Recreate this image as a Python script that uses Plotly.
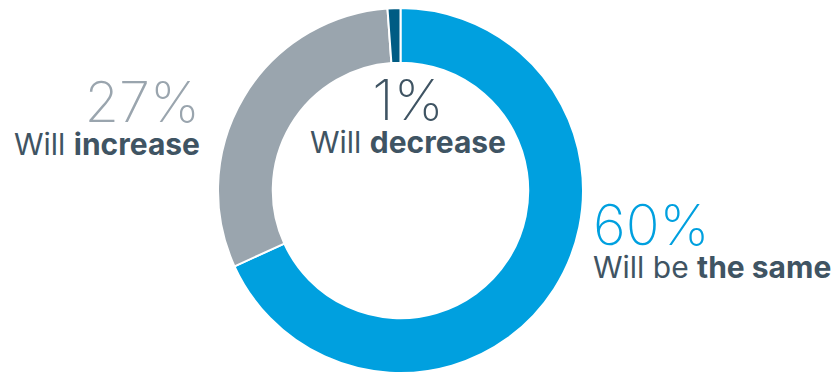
import plotly.graph_objects as go

labels = ["Will be the same", "Will increase", "Will decrease"]
values = [60, 27, 1]
slice_colors = ["#00A0DF", "#9AA5AE", "#005C84"]
pct_labels = ["60%", "27%", "1%"]
pct_colors = ["#00A0DF", "#9AA5AE", "#3F5463"]
captions = ["Will be <b>the same</b>", "Will <b>increase</b>", "Will <b>decrease</b>"]

W, H = 839, 375
TXT = "#3F5463"
FONT = "Inter"

fig = go.Figure(go.Pie(
    labels=labels, values=values, hole=0.70, sort=False, direction="clockwise",
    rotation=0, marker=dict(colors=slice_colors, line=dict(color="white", width=2)),
    textinfo="none", hoverinfo="label+value",
    domain=dict(x=[218 / W, 583 / W], y=[(H - 373) / H, (H - 8) / H]),
))

# (x, y center of block, anchor)
pos = [
    (591, 238, "left"),
    (202, 115, "right"),
    (408, 113, "center"),
]
anns = []
for i, (px, py, anc) in enumerate(pos):
    txt = (f"<span style='font-size:56px;font-weight:200;color:{pct_colors[i]}'>{pct_labels[i]}</span>"
           f"<br><span style='font-size:30px'>{captions[i]}</span>")
    anns.append(dict(x=px / W, y=1 - py / H, xref="paper", yref="paper", xanchor=anc,
                     yanchor="middle", align=anc, showarrow=False, text=txt,
                     font=dict(family=FONT, size=25, color=TXT)))

fig.update_layout(width=W, height=H, margin=dict(l=0, r=0, t=0, b=0),
                  paper_bgcolor="white", plot_bgcolor="white", showlegend=False,
                  annotations=anns)
fig.write_html("out.html")
